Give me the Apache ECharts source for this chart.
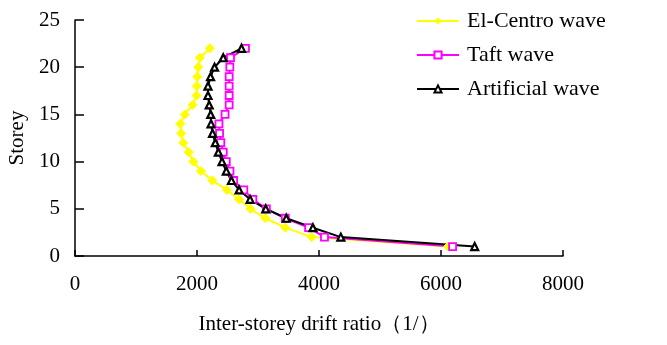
<!DOCTYPE html>
<html>
<head>
<meta charset="utf-8">
<script src="https://cdn.jsdelivr.net/npm/echarts@6/dist/echarts.min.js"></script>
<style>html,body{margin:0;padding:0;background:#fff;}#c{width:667px;height:345px;}</style>
</head>
<body>
<div id="c"></div>
<script>
const storeys = [1,2,3,4,5,6,7,8,9,10,11,12,13,14,15,16,17,18,19,20,21,22];
const elCentro = [6115,3880,3448,3121,2876,2690,2490,2252,2065,1940,1863,1776,1740,1725,1800,1928,1993,1998,2005,2021,2047,2211];
const taft = [6190,4090,3830,3448,3137,2915,2767,2600,2540,2480,2430,2390,2370,2360,2460,2527,2527,2527,2527,2538,2549,2794];
const artificial = [6552,4358,3900,3464,3127,2870,2690,2565,2480,2410,2350,2300,2255,2230,2225,2200,2180,2180,2222,2288,2430,2730];
const seriesNames = ['El-Centro wave','Taft wave','Artificial wave'];

const font = '"Liberation Serif","DejaVu Serif",serif';
const pair = arr => arr.map((v,i)=>[v, storeys[i]]);

const chart = echarts.init(document.getElementById('c'));
chart.setOption({
  animation:false,
  backgroundColor:'#fff',
  grid:{left:75,right:104,top:20,bottom:89,containLabel:false,outerBoundsMode:'none'},
  legend:{
    orient:'vertical', left:411, top:5, itemGap:12, itemWidth:42, itemHeight:9,
    textStyle:{fontFamily:font,fontSize:22,color:'#000',padding:[0,0,0,3]},
    data:seriesNames
  },
  xAxis:{
    type:'value', min:0, max:8000, interval:2000,
    name:'Inter-storey drift ratio（1/）', nameLocation:'middle', nameGap:58,
    nameTextStyle:{fontFamily:font,fontSize:21,color:'#000'},
    axisLine:{show:true,lineStyle:{color:'#000',width:1.5}},
    axisTick:{show:true,inside:true,length:6,lineStyle:{color:'#000',width:1.5}},
    axisLabel:{fontFamily:font,fontSize:21,color:'#000',margin:18,formatter:v=>String(v)},
    splitLine:{show:false}
  },
  yAxis:{
    type:'value', min:0, max:25, interval:5,
    name:'Storey', nameLocation:'middle', nameGap:47,
    nameTextStyle:{fontFamily:font,fontSize:21,color:'#000'},
    axisLine:{show:true,lineStyle:{color:'#000',width:1.5}},
    axisTick:{show:true,inside:true,length:9,lineStyle:{color:'#000',width:1.5}},
    axisLabel:{fontFamily:font,fontSize:21,color:'#000',margin:15,formatter:v=>String(v)},
    splitLine:{show:false}
  },
  series:[
    {name:seriesNames[0],type:'line',data:pair(elCentro),symbol:'diamond',symbolSize:9,
     lineStyle:{color:'#FFFF00',width:2},itemStyle:{color:'#FFFF00',borderColor:'#FFFF00'}},
    {name:seriesNames[1],type:'line',data:pair(taft),symbol:'rect',symbolSize:7,
     lineStyle:{color:'#FF00FF',width:2},itemStyle:{color:'#fff',borderColor:'#FF00FF',borderWidth:1.8}},
    {name:seriesNames[2],type:'line',data:pair(artificial),symbol:'triangle',symbolSize:7,
     lineStyle:{color:'#000',width:2},itemStyle:{color:'#fff',borderColor:'#000',borderWidth:2.2}}
  ]
});
</script>
</body>
</html>
